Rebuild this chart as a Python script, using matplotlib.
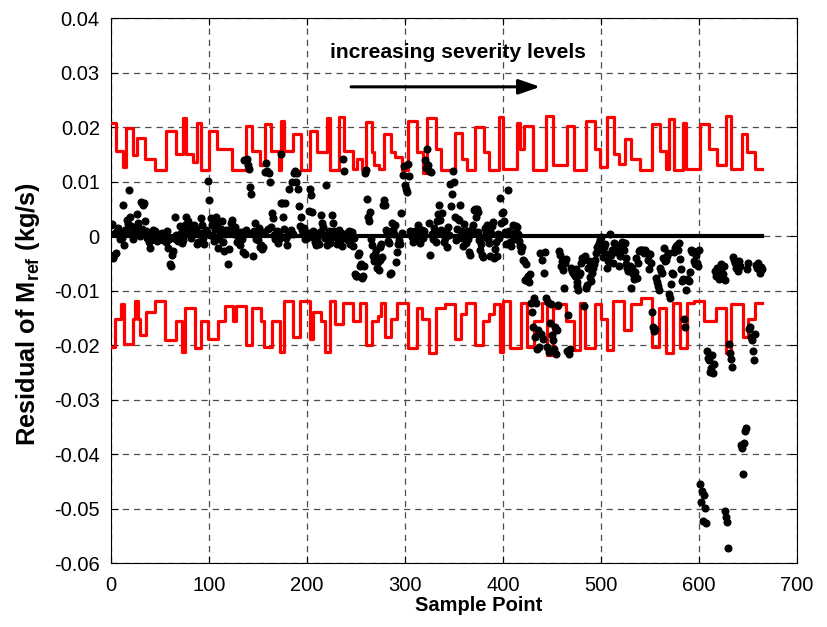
import numpy as np
import matplotlib
matplotlib.use("Agg")
import matplotlib.pyplot as plt

plt.rcParams['font.family'] = ['Liberation Sans', 'DejaVu Sans']
plt.rcParams['mathtext.fontset'] = 'custom'
plt.rcParams['mathtext.rm'] = 'Liberation Sans'
plt.rcParams['mathtext.bf'] = 'Liberation Sans:bold'

# residuals (in units of 1e-3 kg/s), one per sample point 0..664
residual_milli = [
    2.0, 2.2, -4.0, -3.5, 0.5, -3.1, 1.0, 1.5, 0.8, -0.5,
    0.3, -0.4, 5.7, -1.6, 1.2, 0.6, 3.0, 2.2, 8.5, 3.6,
    1.8, 0.4, 1.0, -0.5, 0.2, 1.5, 0.9, 4.0, 2.5, 0.8,
    0.0, 6.2, 1.3, 5.7, 6.0, 2.7, 1.0, -0.3, 0.4, -1.1,
    -2.2, -0.8, 0.6, 1.2, -0.2, 1.0, 0.3, -0.9, 0.0, -0.5,
    0.4, -0.2, 0.6, -0.8, -0.1, 0.2, -1.0, 1.0, -2.2, -0.6,
    -5.2, -5.5, -3.4, -2.8, -0.3, 3.6, 0.2, -0.7, -0.9, -0.3,
    1.8, 0.5, -1.3, -0.7, 0.8, 1.2, 2.0, 3.6, 2.2, 2.7,
    0.4, 1.1, -0.4, 0.9, 0.8, 2.1, 1.5, 1.4, -1.5, -1.0,
    0.3, 0.6, 3.3, 2.0, -0.4, -1.4, 0.5, 1.1, 0.7, 10.2,
    6.6, 0.2, 3.4, 2.1, 0.0, -0.9, 1.4, 3.6, 2.4, -2.2,
    -0.5, 0.6, 1.3, 2.7, -1.0, -2.8, 0.3, 1.2, 1.0, -5.2,
    -2.4, 0.5, 2.5, 3.0, 2.0, 1.2, 0.3, 1.6, 0.9, -1.0,
    0.1, -0.4, -1.6, 0.8, -0.5, -3.0, 13.9, -3.2, 1.1, 14.2,
    13.0, 12.4, 9.0, 7.8, 0.5, -3.7, 0.9, 2.4, -0.6, 0.3,
    -0.8, 1.5, -2.0, -1.6, -2.4, -2.0, 0.8, 11.8, 13.5, 12.0,
    1.3, 11.5, 10.0, 1.6, 4.2, 3.3, 0.2, -0.6, 0.4, 1.0,
    -1.2, 0.5, -0.3, 6.0, 15.0, 6.0, 3.5, 1.3, 6.0, -0.4,
    -1.6, 0.2, 8.7, 0.8, 1.2, 9.9, 0.3, 11.5, 12.0, 10.0,
    11.5, 8.7, 5.5, 1.8, 3.6, 1.2, 0.8, 1.5, -0.6, 0.1,
    -0.3, 0.5, 4.7, 8.7, 7.5, 4.5, 1.0, -0.3, -1.1, -1.7,
    -0.5, 0.3, -1.5, 0.8, 3.8, 2.5, 1.6, 0.2, -0.4, 9.3,
    -1.6, 0.3, 0.9, -1.2, -0.5, 0.5, 3.9, 2.5, 1.0, -0.2,
    0.4, -1.4, -0.4, 1.2, -0.8, 0.6, -1.8, 14.2, 12.0, -0.3,
    0.2, 0.5, -0.8, 1.0, -1.4, -0.6, 0.8, -1.9, -0.4, -7.0,
    -7.3, -7.4, -3.4, -3.1, -5.5, -5.2, -7.6, -7.3, -5.5, 11.5,
    12.1, 6.9, 3.6, 2.7, 4.5, -0.6, -1.6, -3.6, -4.6, -3.2,
    -2.6, -5.8, -4.7, -6.2, -4.4, -2.0, -1.4, -3.9, 5.8, 6.6,
    5.7, 1.2, 0.8, -0.9, -1.2, -6.9, -6.7, 2.5, 1.2, 0.3,
    2.0, -4.8, -3.0, -1.5, -0.7, -1.5, 4.2, 0.5, 11.2, 12.9,
    9.3, 8.7, 8.1, 13.3, 11.0, 1.0, 0.8, -0.2, -1.0, 0.2,
    1.0, 0.0, -0.8, 2.0, 0.5, -1.3, 0.6, 1.1, -0.4, 0.9,
    14.0, 12.5, 16.0, 13.0, 12.0, 2.5, -3.4, 11.8, 0.4, -0.6,
    1.5, 0.8, -1.0, 2.8, 4.0, 5.7, 3.0, 1.2, 4.2, 0.5,
    -1.1, -0.3, 0.9, -2.0, 1.7, 0.2, 9.5, 5.6, 7.8, 12.0,
    10.0, 3.5, -0.8, 1.4, 3.2, 3.0, 5.7, 1.0, -0.4, -1.8,
    2.2, 0.6, -1.2, 1.0, -0.5, -3.0, -3.4, 0.3, 1.3, 2.0,
    4.8, 5.0, 3.5, 5.0, 4.5, 0.8, -0.7, -2.5, -1.4, -3.4,
    -3.8, -0.2, 1.5, 0.9, 2.0, -0.6, -1.2, -3.6, 0.5, 1.8,
    2.6, -4.0, -2.4, -1.0, -3.6, 0.4, -0.3, 7.0, 2.4, 4.2,
    4.5, 2.7, 0.7, -1.5, 0.4, 8.5, 1.0, -1.0, -1.8, 0.2,
    2.0, -0.5, 0.6, 1.8, 1.7, 0.3, -0.9, -1.8, -2.7, -2.0,
    -4.4, -4.6, -8.0, -5.2, -7.6, -8.2, -7.3, -8.4, -7.0, -12.2,
    -14.0, -16.7, -11.3, -18.5, -12.2, -20.7, -17.3, -20.4, -3.1, -18.0,
    -4.3, -18.8, -6.7, -2.9, -11.3, -20.3, -12.0, -21.2, -16.0, -12.5,
    -18.2, -19.1, -20.7, -16.6, -21.6, -17.3, -12.7, -2.8, -3.5, -5.5,
    -4.6, -6.2, -9.5, -5.0, -4.2, -21.0, -14.4, -21.6, -20.8, -5.8,
    -6.4, -6.7, -7.0, -7.3, -6.0, -8.5, -9.2, -9.8, -7.1, -6.8,
    -4.9, -4.0, -4.4, -12.8, -3.7, -9.5, -9.0, -5.8, -4.6, -7.5,
    -8.2, -6.8, -5.8, -5.2, -4.3, -3.1, -2.0, -1.8, -1.2, -0.7,
    -0.1, -2.5, -3.8, -2.0, -1.5, -3.3, -5.8, -4.5, -3.7, 0.3,
    -3.4, -2.6, -4.9, -1.2, -1.4, -2.8, -3.0, -1.8, -5.5, -3.7,
    -2.3, -1.0, -1.6, -2.5, -1.3, -4.0, -5.2, -5.8, -6.4, -6.1,
    -5.5, -9.5, -5.8, -7.0, -7.9, -6.5, -4.0, -7.6, -5.0, -2.8,
    -2.5, -2.5, -2.7, -2.5, -3.1, -2.6, -2.9, -3.1, -4.4, -6.0,
    -3.3, -5.0, -14.0, -16.7, -17.4, -17.0, -7.6, -8.5, -9.2, -9.8,
    -5.8, -6.4, -6.7, -4.0, -2.2, -4.6, -4.3, -3.7, -3.1, -10.7,
    -11.3, -8.8, -6.7, -7.0, -3.0, -2.5, -2.2, -1.9, -1.6, -2.5,
    -1.3, -4.2, -6.0, -8.2, -7.9, -15.2, -16.7, -9.8, -7.9, -8.0,
    -8.2, -6.5, -2.5, -3.0, -2.8, -4.6, -5.2, -3.4, -4.9, -5.5,
    -2.6, -45.5, -48.8, -46.7, -52.2, -47.6, -49.9, -52.7, -21.0, -22.3,
    -22.8, -24.9, -24.2, -21.8, -25.2, -23.5, -6.4, -7.3, -5.8, -6.7,
    -7.9, -6.0, -5.2, -6.7, -7.0, -5.5, -8.0, -50.5, -51.6, -52.5,
    -57.3, -19.8, -21.5, -22.6, -24.0, -3.8, -4.3, -4.9, -5.8, -5.2,
    -6.4, -4.6, -5.5, -38.3, -38.8, -43.7, -38.0, -35.8, -35.2, -6.0,
    -5.0, -17.0, -16.7, -18.5, -19.0, -21.0, -22.8, -18.0, -5.3, -5.8,
    -5.0, -6.1, -6.7, -5.6, -6.0,
]

# upper threshold: (start sample, level in 1e-3 kg/s)
upper_start = [0, 5, 12, 15, 22, 27, 35, 45, 56, 66, 73, 77, 84, 88, 92, 100, 108, 124,
               138, 144, 152, 157, 163, 171, 174, 177, 186, 194, 203, 210, 220, 223, 233, 238,
               247, 251, 256, 260, 266, 268, 273, 279, 286, 290, 297, 303, 312, 318, 322, 332,
               337, 351, 358, 363, 371, 381, 386, 396, 400, 414, 417, 421, 431, 444, 451, 465,
               472, 485, 494, 499, 506, 513, 518, 524, 531, 540, 552, 560, 566, 569, 574, 584,
               587, 601, 610, 618, 628, 633, 644, 649, 657, 664]
upper_level = [20.7, 15.7, 12.7, 19.9, 14.8, 18.1, 14.2, 12.1, 19.3, 15.0, 21.7, 15.0, 13.6, 20.8,
               12.1, 19.3, 16.0, 12.1, 20.2, 15.7, 13.0, 20.5, 15.7, 12.1, 21.1, 15.7, 18.7, 12.1,
               19.3, 15.4, 21.7, 12.1, 21.8, 15.7, 12.4, 14.2, 12.1, 21.0, 15.4, 13.0, 12.4, 18.7,
               15.4, 14.5, 12.1, 21.1, 15.4, 11.5, 21.6, 16.0, 12.1, 19.0, 14.2, 12.1, 20.1, 15.4,
               12.1, 21.8, 12.4, 20.7, 16.0, 20.2, 12.1, 22.1, 13.0, 20.2, 12.1, 21.1, 16.0, 12.7,
               21.8, 15.1, 13.3, 17.8, 14.2, 12.1, 20.5, 15.7, 12.4, 21.5, 12.1, 20.8, 12.4, 20.5,
               16.0, 13.0, 22.1, 12.4, 18.7, 15.4, 12.4, 12.4]

# lower threshold: (start sample, level in 1e-3 kg/s)
lower_start = [0, 4, 10, 13, 22, 25, 28, 30, 36, 45, 55, 66, 72, 76, 86, 92, 99, 109, 116,
               125, 128, 138, 144, 153, 156, 164, 172, 177, 186, 193, 203, 206, 214, 218, 223,
               229, 237, 247, 254, 260, 266, 272, 276, 280, 286, 292, 303, 312, 317, 325, 332,
               341, 351, 357, 362, 371, 380, 386, 391, 397, 400, 407, 418, 424, 432, 440, 445,
               451, 457, 464, 472, 479, 484, 494, 500, 506, 512, 523, 531, 541, 552, 559, 566,
               573, 581, 588, 595, 605, 617, 628, 633, 645, 650, 657, 664]
lower_level = [-20.4, -15.2, -12.5, -19.8, -15.2, -11.9, -15.2, -18.2, -14.0, -11.9, -19.1,
               -15.5, -21.2, -13.1, -20.6, -15.5, -18.8, -15.5, -12.8, -15.5, -12.8, -20.0,
               -13.1, -15.5, -20.4, -15.5, -21.2, -11.9, -18.5, -11.9, -18.8, -14.0, -15.5,
               -21.2, -11.9, -16.1, -12.2, -15.5, -12.2, -20.0, -15.5, -14.6, -12.2, -18.5,
               -15.2, -12.2, -20.6, -13.1, -15.2, -21.5, -13.1, -12.5, -18.8, -14.3, -12.2,
               -19.9, -15.5, -14.3, -12.5, -21.2, -11.9, -20.6, -12.2, -20.4, -15.5, -12.2,
               -21.8, -13.1, -12.5, -15.5, -20.9, -12.2, -20.6, -12.5, -15.2, -20.9, -11.9,
               -17.3, -12.5, -11.3, -20.4, -13.1, -21.5, -12.2, -20.6, -12.2, -11.9, -15.5,
               -13.1, -21.5, -12.5, -18.5, -15.2, -12.2, -12.2]

x_ticks = [0, 100, 200, 300, 400, 500, 600, 700]
y_ticks = [-0.06, -0.05, -0.04, -0.03, -0.02, -0.01, 0, 0.01, 0.02, 0.03, 0.04]
y_tick_labels = ['-0.06', '-0.05', '-0.04', '-0.03', '-0.02', '-0.01', '0', '0.01', '0.02', '0.03', '0.04']

residual = np.array(residual_milli) * 1e-3
samples = np.arange(len(residual))

fig = plt.figure(figsize=(8.28, 6.27), dpi=100)
ax = fig.add_axes([0.134, 0.102, 0.8286, 0.869])

ax.plot(upper_start, np.array(upper_level) * 1e-3, color='red', lw=2.3, drawstyle='steps-post', zorder=3)
ax.plot(lower_start, np.array(lower_level) * 1e-3, color='red', lw=2.3, drawstyle='steps-post', zorder=3)
ax.plot([0, samples[-1]], [0, 0], color='black', lw=3, zorder=4)
ax.plot(samples, residual, 'o', color='black', ms=4.8, zorder=5)

ax.annotate('', xy=(438, 0.0274), xytext=(245, 0.0274),
            arrowprops=dict(arrowstyle='-|>,head_length=1.3,head_width=0.45', color='black', lw=2.2,
                            shrinkA=0, shrinkB=0))
ax.text(354, 0.0337, 'increasing severity levels', ha='center', va='center', fontsize=15.2, fontweight='bold')

ax.set_xlim(0, 700)
ax.set_ylim(-0.06, 0.04)
ax.set_xticks(x_ticks)
ax.set_yticks(y_ticks)
ax.set_yticklabels(y_tick_labels)
ax.tick_params(direction='in', length=5, labelsize=14.5, top=True, right=True)
ax.tick_params(axis='x', pad=9)
ax.tick_params(axis='y', pad=8)
ax.grid(True, color='0.3', linestyle=(0, (5, 4)), lw=0.9)
ax.set_axisbelow(True)

ax.set_xlabel('Sample Point', fontsize=14.5, fontweight='bold')
ax.xaxis.set_label_coords(0.536, -0.060)
ax.set_ylabel(r'Residual of M$_{\mathbf{ref}}$ (kg/s)', fontsize=18.3, fontweight='bold')
ax.yaxis.set_label_coords(-0.100, 0.457)

fig.savefig('out.png', dpi=100)
